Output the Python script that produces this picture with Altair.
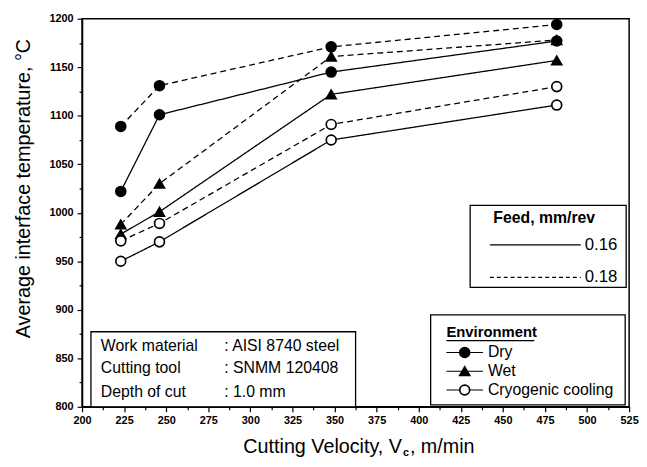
import altair as alt
import pandas as pd

# ---- data ----
velocity = [223, 246, 348, 482]
dry_016 = [1022, 1101, 1145, 1177]
dry_018 = [1089, 1131, 1171, 1194]
wet_016 = [978, 1001, 1122, 1157]
wet_018 = [988, 1030, 1161, 1178]
cryo_016 = [950, 970, 1075, 1111]
cryo_018 = [971, 989, 1091, 1130]
environments = ["Dry", "Wet", "Cryogenic cooling"]
feeds = ["0.16", "0.18"]
x_ticks = [200 + 12.5 * i for i in range(27)]
y_ticks = [800 + 25 * i for i in range(17)]
info_left = ["Work material", "Cutting tool", "Depth of cut"]
info_right = [": AISI 8740 steel", ": SNMM 120408", ": 1.0 mm"]

series = {
    ("Dry", "0.16"): dry_016, ("Dry", "0.18"): dry_018,
    ("Wet", "0.16"): wet_016, ("Wet", "0.18"): wet_018,
    ("Cryogenic cooling", "0.16"): cryo_016, ("Cryogenic cooling", "0.18"): cryo_018,
}
rows = []
for (env, feed), vals in series.items():
    for v, t in zip(velocity, vals):
        rows.append({"velocity": v, "temp": t, "env": env, "feed": feed, "key": env + feed})
df = pd.DataFrame(rows)

FONT = "Liberation Sans"
W, H = 554, 393

axis_common = dict(
    grid=False, domainColor="black", domainWidth=1.5, tickColor="black", tickWidth=1.2,
    labelFont=FONT, labelFontSize=11, labelFontWeight="bold", labelColor="black", title=None,
)
x_axis = alt.Axis(
    values=x_ticks,
    labelExpr="datum.value % 25 === 0 ? format(datum.value, 'd') : ''",
    tickSize={"condition": {"test": "datum.value % 25 === 0", "value": 5}, "value": 3},
    labelPadding=3, labelFlush=False, **axis_common)
y_axis = alt.Axis(
    values=y_ticks,
    labelExpr="datum.value % 50 === 0 ? format(datum.value, 'd') : ''",
    tickSize={"condition": {"test": "datum.value % 50 === 0", "value": 5}, "value": 3},
    labelPadding=4, **axis_common)

base = alt.Chart(df).encode(
    x=alt.X("velocity:Q", scale=alt.Scale(domain=[200, 525], nice=False, zero=False), axis=x_axis),
    y=alt.Y("temp:Q", scale=alt.Scale(domain=[800, 1200], nice=False, zero=False), axis=y_axis),
)

lines = base.mark_line(color="black", strokeWidth=1.3).encode(
    strokeDash=alt.StrokeDash("feed:N", scale=alt.Scale(domain=feeds, range=[[1, 0], [6, 4]]), legend=None),
    detail="key:N",
)
points = base.mark_point(filled=True, size=100, stroke="black", strokeWidth=1.7, opacity=1).encode(
    shape=alt.Shape("env:N", scale=alt.Scale(domain=environments, range=["circle", "triangle-up", "circle"]), legend=None),
    fill=alt.Fill("env:N", scale=alt.Scale(domain=environments, range=["black", "black", "white"]), legend=None),
)

one = pd.DataFrame({"a": [0]})
ann = alt.Chart(one)

def box(x1, x2, y1, y2):
    return ann.mark_rect(fill="white", stroke="black", strokeWidth=1.3).encode(
        x=alt.value(x1), x2=alt.value(x2), y=alt.value(y1), y2=alt.value(y2))

def txt(s, x, y, size=15, weight="normal", align="left", angle=0, baseline="middle"):
    return ann.mark_text(text=s, font=FONT, fontSize=size, fontWeight=weight, align=align,
                         baseline=baseline, angle=angle, color="black").encode(
        x=alt.value(x), y=alt.value(y))

def hline(x1, x2, y, dash=None, width=1.2):
    kw = dict(color="black", strokeWidth=width)
    if dash:
        kw["strokeDash"] = dash
    return ann.mark_rule(**kw).encode(x=alt.value(x1), x2=alt.value(x2), y=alt.value(y))

def marker(x, y, shape, fill):
    return ann.mark_point(shape=shape, size=100, filled=True, fill=fill, stroke="black",
                          strokeWidth=1.7, opacity=1).encode(x=alt.value(x), y=alt.value(y))

layers = [lines, points]

# Feed legend
layers += [box(393, 551, 189, 272),
           txt("Feed, mm/rev", 468, 202, size=16, weight="bold", align="center"),
           hline(413, 505, 229), txt("0.16", 509, 229, size=17),
           hline(413, 505, 262, dash=[4, 3]), txt("0.18", 509, 262, size=17)]

# Environment legend
env_y = [338, 357, 376]
layers += [box(353, 550, 300, 391),
           txt("Environment", 369, 317, size=15, weight="bold"),
           hline(369, 458, 326, width=1.2)]
for (name, shp, fl), yy in zip([("Dry", "circle", "black"), ("Wet", "triangle-up", "black"),
                                ("Cryogenic cooling", "circle", "white")], env_y):
    layers += [hline(369, 406, yy), marker(387.5, yy, shp, fl), txt(name, 411, yy, size=16)]

# Info box
info_y = [331, 354, 378]
layers += [box(9, 277, 317, 393)]
for l, r, yy in zip(info_left, info_right, info_y):
    layers += [txt(l, 19, yy, size=16), txt(r, 144, yy, size=16)]

# Axis titles
layers += [txt("Average interface temperature, \u00b0C", -59, 172, size=20, align="center", angle=270)]
layers += [txt("Cutting Velocity, V", 324, 434, size=20, align="right"),
           txt("c", 325, 440, size=11, weight="bold"),
           txt(", m/min", 332, 434, size=20)]

chart = alt.layer(*layers).properties(
    width=W, height=H,
    autosize=alt.AutoSizeParams(type="none"),
    padding={"left": 75, "top": 8, "right": 10, "bottom": 48},
).configure_view(stroke="black", strokeWidth=1.5)

chart.save("out.html", embed_options={"renderer": "svg", "actions": False})
